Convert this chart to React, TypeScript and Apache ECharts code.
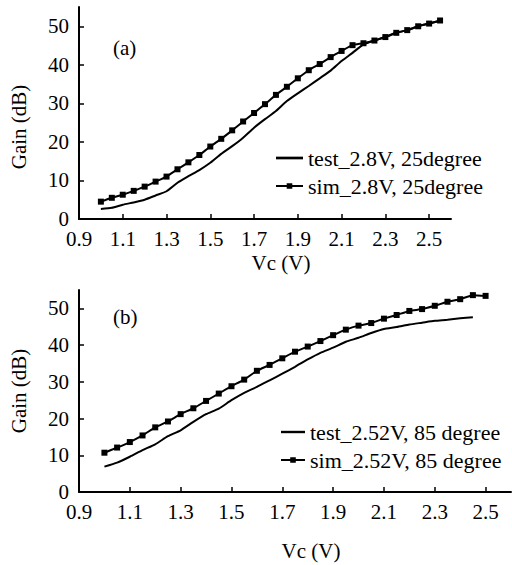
import React, { useEffect, useRef } from "react";
import * as echarts from "echarts";

// ---- data ----
const vcA = [1.0, 1.05, 1.1, 1.15, 1.2, 1.25, 1.3, 1.35, 1.4, 1.45, 1.5, 1.55, 1.6, 1.65, 1.7, 1.75, 1.8, 1.85, 1.9, 1.95, 2.0, 2.05, 2.1, 2.15, 2.2, 2.25, 2.3, 2.35, 2.4, 2.45, 2.5, 2.55];
const testA = [2.6, 2.9, 3.7, 4.3, 5.0, 6.1, 7.2, 9.4, 11.1, 12.7, 14.6, 16.9, 18.9, 21.1, 23.7, 25.9, 28.0, 30.6, 32.6, 34.5, 36.5, 38.5, 41.0, 43.1, 45.3, 46.3, 47.2, 48.3, 49.0, 50.0, 50.7, 51.5];
const simA = [4.5, 5.5, 6.3, 7.3, 8.4, 9.7, 11.0, 12.9, 14.7, 16.6, 18.8, 20.8, 23.0, 25.3, 27.5, 29.8, 32.2, 34.3, 36.5, 38.6, 40.2, 42.0, 43.6, 45.1, 45.6, 46.3, 47.2, 48.3, 49.0, 50.0, 50.7, 51.5];

const vcBSim = [1.0, 1.05, 1.1, 1.15, 1.2, 1.25, 1.3, 1.35, 1.4, 1.45, 1.5, 1.55, 1.6, 1.65, 1.7, 1.75, 1.8, 1.85, 1.9, 1.95, 2.0, 2.05, 2.1, 2.15, 2.2, 2.25, 2.3, 2.35, 2.4, 2.45, 2.5];
const simB = [10.7, 12.1, 13.6, 15.4, 17.6, 19.2, 21.2, 22.8, 24.8, 26.8, 28.8, 30.6, 33.0, 34.6, 36.4, 38.2, 39.6, 41.1, 42.7, 44.2, 45.3, 46.0, 47.2, 48.2, 49.3, 49.8, 50.7, 51.8, 52.5, 53.6, 53.4];
const vcBTest = [1.0, 1.05, 1.1, 1.15, 1.2, 1.25, 1.3, 1.35, 1.4, 1.45, 1.5, 1.55, 1.6, 1.65, 1.7, 1.75, 1.8, 1.85, 1.9, 1.95, 2.0, 2.05, 2.1, 2.15, 2.2, 2.25, 2.3, 2.35, 2.4, 2.45];
const testB = [6.9, 8.0, 9.6, 11.4, 13.0, 15.2, 16.8, 19.1, 21.2, 22.7, 25.0, 27.0, 28.6, 30.4, 32.2, 34.1, 36.1, 37.9, 39.3, 40.9, 42.0, 43.3, 44.4, 44.9, 45.6, 46.1, 46.6, 46.9, 47.3, 47.6];

const xTicks = [0.9, 1.1, 1.3, 1.5, 1.7, 1.9, 2.1, 2.3, 2.5];
const yTicks = [0, 10, 20, 30, 40, 50];

const legendA = ["test_2.8V, 25degree", "sim_2.8V, 25degree"];
const legendB = ["test_2.52V, 85 degree", "sim_2.52V, 85 degree"];

const FONT = "'Liberation Serif', 'Times New Roman', Times, serif";
const LINE_ICON = "path://M0,0L30,0L30,3L0,3Z";

function pairs(xs: number[], ys: number[]) {
  return xs.map((x, i) => [x, ys[i]]);
}

function xAxisCfg(gridIndex: number, gap: number) {
  return {
    type: "value",
    gridIndex,
    min: 0.9,
    max: 2.6,
    name: "Vc (V)",
    nameLocation: "middle",
    nameGap: gap,
    nameTextStyle: { fontFamily: FONT, fontSize: 21, color: "#000", padding: [0, 0, 0, 32] },
    axisLine: { show: true, lineStyle: { color: "#000", width: 2 } },
    axisTick: { show: true, inside: true, length: 5, lineStyle: { color: "#000", width: 1.5 }, customValues: xTicks },
    axisLabel: {
      fontFamily: FONT,
      fontSize: 21,
      color: "#000",
      margin: 9,
      customValues: xTicks,
      formatter: (v: number) => v.toFixed(1),
    },
    splitLine: { show: false },
  };
}

function yAxisCfg(gridIndex: number, namePad: number[]) {
  return {
    type: "value",
    gridIndex,
    min: 0,
    max: 55,
    name: "Gain (dB)",
    nameLocation: "middle",
    nameGap: 50,
    nameRotate: 90,
    nameTextStyle: { fontFamily: FONT, fontSize: 21, color: "#000", padding: namePad },
    axisLine: { show: true, lineStyle: { color: "#000", width: 2 } },
    axisTick: { show: true, inside: true, length: 5, lineStyle: { color: "#000", width: 1.5 }, customValues: yTicks },
    axisLabel: { fontFamily: FONT, fontSize: 21, color: "#000", margin: 10, customValues: yTicks },
    splitLine: { show: false },
  };
}

function lineSeries(name: string, data: number[][], idx: number, marker: boolean) {
  return {
    type: "line",
    name,
    xAxisIndex: idx,
    yAxisIndex: idx,
    data,
    smooth: 0.2,
    symbol: marker ? "rect" : "none",
    symbolSize: 6,
    showSymbol: marker,
    itemStyle: { color: "#000" },
    lineStyle: { color: "#000", width: 2 },
    emphasis: { disabled: true },
  };
}

export default function App() {
  const ref = useRef<HTMLDivElement>(null);
  useEffect(() => {
    if (!ref.current) return;
    const chart = echarts.init(ref.current, null, { renderer: "svg" });
    const legendText = { fontFamily: FONT, fontSize: 22, color: "#000" };
    chart.setOption({
      animation: false,
      backgroundColor: "#fff",
      grid: [
        { left: 78, top: 7, width: 373, height: 212 },
        { left: 79, top: 290, width: 432, height: 202 },
      ],
      xAxis: [xAxisCfg(0, 33), xAxisCfg(1, 48)],
      yAxis: [yAxisCfg(0, [0, 28, 0, 0]), yAxisCfg(1, [0, 0, 0, 0])],
      legend: [
        {
          data: [{ name: legendA[0], icon: LINE_ICON }, { name: legendA[1] }],
          orient: "vertical",
          left: 270,
          top: 142,
          itemWidth: 27,
          itemHeight: 7,
          itemGap: 6,
          textStyle: legendText,
          selectedMode: false,
        },
        {
          data: [{ name: legendB[0], icon: LINE_ICON }, { name: legendB[1] }],
          orient: "vertical",
          left: 275,
          top: 416,
          itemWidth: 24,
          itemHeight: 7,
          itemGap: 6,
          textStyle: legendText,
          selectedMode: false,
        },
      ],
      graphic: [
        { type: "text", left: 113, top: 37, style: { text: "(a)", font: `21px ${FONT}`, fill: "#000" } },
        { type: "text", left: 113, top: 306, style: { text: "(b)", font: `21px ${FONT}`, fill: "#000" } },
      ],
      series: [
        lineSeries(legendA[0], pairs(vcA, testA), 0, false),
        lineSeries(legendA[1], pairs(vcA, simA), 0, true),
        lineSeries(legendB[0], pairs(vcBTest, testB), 1, false),
        lineSeries(legendB[1], pairs(vcBSim, simB), 1, true),
      ],
    });
    return () => chart.dispose();
  }, []);
  return (
    <div
      ref={ref}
      style={{ position: "absolute", left: 0, top: 0, width: 512, height: 565, background: "#fff" }}
    />
  );
}
